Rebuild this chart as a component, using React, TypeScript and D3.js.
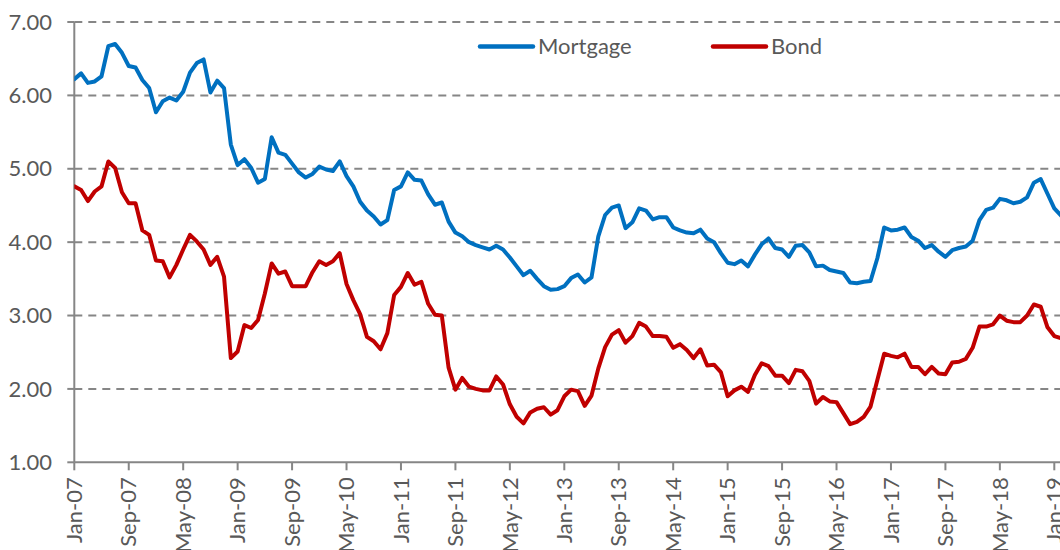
import React from "react";
import * as d3 from "d3";

const startYear = 2007;
const monthNames = ["Jan","Feb","Mar","Apr","May","Jun","Jul","Aug","Sep","Oct","Nov","Dec"];

const mortgage = [
  6.22, 6.30, 6.17, 6.19, 6.26, 6.67, 6.70, 6.58, 6.40, 6.38, 6.21, 6.10,
  5.77, 5.92, 5.97, 5.93, 6.05, 6.31, 6.44, 6.49, 6.04, 6.20, 6.10, 5.33,
  5.05, 5.13, 5.01, 4.81, 4.86, 5.43, 5.22, 5.19, 5.07, 4.95, 4.88, 4.93,
  5.03, 4.99, 4.97, 5.10, 4.90, 4.76, 4.55, 4.43, 4.35, 4.24, 4.30, 4.71,
  4.76, 4.95, 4.85, 4.84, 4.65, 4.51, 4.54, 4.28, 4.13, 4.08, 4.00, 3.96,
  3.93, 3.90, 3.95, 3.90, 3.79, 3.67, 3.55, 3.61, 3.50, 3.40, 3.35, 3.36,
  3.40, 3.51, 3.56, 3.45, 3.52, 4.08, 4.37, 4.47, 4.50, 4.19, 4.27, 4.46,
  4.43, 4.31, 4.34, 4.34, 4.20, 4.16, 4.13, 4.12, 4.17, 4.05, 4.00, 3.85,
  3.72, 3.70, 3.75, 3.67, 3.83, 3.97, 4.05, 3.92, 3.90, 3.80, 3.95, 3.96,
  3.86, 3.67, 3.68, 3.62, 3.60, 3.58, 3.45, 3.44, 3.46, 3.47, 3.78, 4.20,
  4.16, 4.17, 4.20, 4.07, 4.02, 3.92, 3.96, 3.87, 3.80, 3.89, 3.92, 3.94,
  4.02, 4.30, 4.44, 4.47, 4.59, 4.57, 4.53, 4.55, 4.61, 4.81, 4.86, 4.66,
  4.46, 4.36, 4.35,
];

const bond = [
  4.76, 4.71, 4.56, 4.69, 4.76, 5.10, 5.01, 4.68, 4.53, 4.53, 4.16, 4.10,
  3.75, 3.74, 3.52, 3.69, 3.90, 4.10, 4.01, 3.90, 3.69, 3.80, 3.53, 2.42,
  2.51, 2.87, 2.83, 2.94, 3.30, 3.71, 3.57, 3.60, 3.40, 3.40, 3.40, 3.59,
  3.74, 3.69, 3.74, 3.85, 3.43, 3.21, 3.02, 2.71, 2.65, 2.54, 2.76, 3.28,
  3.39, 3.58, 3.42, 3.46, 3.16, 3.01, 3.00, 2.29, 1.99, 2.15, 2.03, 2.00,
  1.98, 1.98, 2.17, 2.06, 1.79, 1.62, 1.53, 1.68, 1.73, 1.75, 1.65, 1.71,
  1.90, 1.99, 1.97, 1.77, 1.91, 2.28, 2.57, 2.74, 2.80, 2.63, 2.72, 2.90,
  2.85, 2.72, 2.72, 2.71, 2.56, 2.61, 2.53, 2.42, 2.54, 2.32, 2.33, 2.23,
  1.90, 1.98, 2.03, 1.96, 2.19, 2.35, 2.31, 2.18, 2.18, 2.08, 2.26, 2.24,
  2.11, 1.80, 1.89, 1.83, 1.82, 1.67, 1.52, 1.55, 1.62, 1.76, 2.12, 2.48,
  2.45, 2.43, 2.48, 2.30, 2.30, 2.20, 2.30, 2.21, 2.20, 2.36, 2.37, 2.41,
  2.56, 2.85, 2.85, 2.88, 3.00, 2.93, 2.91, 2.91, 3.00, 3.15, 3.12, 2.84,
  2.72, 2.69, 2.68,
];

const yTicks = [1, 2, 3, 4, 5, 6, 7];
const xTickLabels = [
  "Jan-07", "Sep-07", "May-08", "Jan-09", "Sep-09", "May-10", "Jan-11",
  "Sep-11", "May-12", "Jan-13", "Sep-13", "May-14", "Jan-15", "Sep-15",
  "May-16", "Jan-17", "Sep-17", "May-18", "Jan-19",
];
const seriesNames = ["Mortgage", "Bond"];
const seriesColors = ["#0070C0", "#C00000"];

function monthIndex(label: string): number {
  const [m, y] = label.split("-");
  return (2000 + +y - startYear) * 12 + monthNames.indexOf(m);
}

export default function App() {
  const W = 1060, H = 550;
  const left = 74.3, top = 22, bottom = 462.3;
  const x = d3.scaleLinear().domain([0, 144]).range([left, 1054.3]);
  const y = d3.scaleLinear().domain([1, 7]).range([bottom, top]);
  const line = d3.line<number>()
    .x((_, i) => x(i))
    .y((d) => y(d));
  const series = [mortgage, bond];
  const font = "Lato, Carlito, Calibri, sans-serif";
  const grey = "#868686";
  const textColor = "#595959";
  const legendX = [480, 713];

  return (
    <svg width={W} height={H} style={{ position: "absolute", left: 0, top: 0, background: "#fff" }}>
      <defs>
        <clipPath id="plot">
          <rect x={left} y={0} width={W - left} height={bottom + 2} />
        </clipPath>
      </defs>
      {yTicks.filter((t) => t > 1).map((t) => (
        <line key={t} x1={left} x2={W} y1={y(t)} y2={y(t)} stroke={grey} strokeWidth={2} strokeDasharray="8,6" />
      ))}
      {yTicks.map((t) => (
        <g key={"yt" + t}>
          <line x1={left - 7} x2={left} y1={y(t)} y2={y(t)} stroke={grey} strokeWidth={2} />
          <text x={52} y={y(t)} dy="0.35em" textAnchor="end" fontFamily={font} fontSize={22} fill={textColor}>
            {t.toFixed(2)}
          </text>
        </g>
      ))}
      <line x1={left} x2={left} y1={top} y2={bottom} stroke={grey} strokeWidth={2} />
      <line x1={left} x2={W} y1={bottom} y2={bottom} stroke={grey} strokeWidth={2} />
      {xTickLabels.map((lab) => {
        const xi = x(monthIndex(lab));
        return (
          <g key={lab}>
            <line x1={xi} x2={xi} y1={bottom} y2={bottom + 8} stroke={grey} strokeWidth={2} />
            <text
              transform={`translate(${xi},${bottom + 15}) rotate(-90)`}
              textAnchor="end"
              dy="0.35em"
              fontFamily={font}
              fontSize={22}
              fill={textColor}
            >
              {lab}
            </text>
          </g>
        );
      })}
      <g clipPath="url(#plot)">
        {series.map((s, k) => (
          <path key={k} d={line(s) || ""} fill="none" stroke={seriesColors[k]} strokeWidth={4} strokeLinejoin="round" strokeLinecap="round" />
        ))}
      </g>
      {seriesNames.map((n, k) => (
        <g key={n}>
          <line x1={legendX[k]} x2={legendX[k] + 53} y1={46.5} y2={46.5} stroke={seriesColors[k]} strokeWidth={4.5} strokeLinecap="round" />
          <text x={legendX[k] + 58} y={46.5} dy="0.35em" fontFamily={font} fontSize={22} fill={textColor}>
            {n}
          </text>
        </g>
      ))}
    </svg>
  );
}
